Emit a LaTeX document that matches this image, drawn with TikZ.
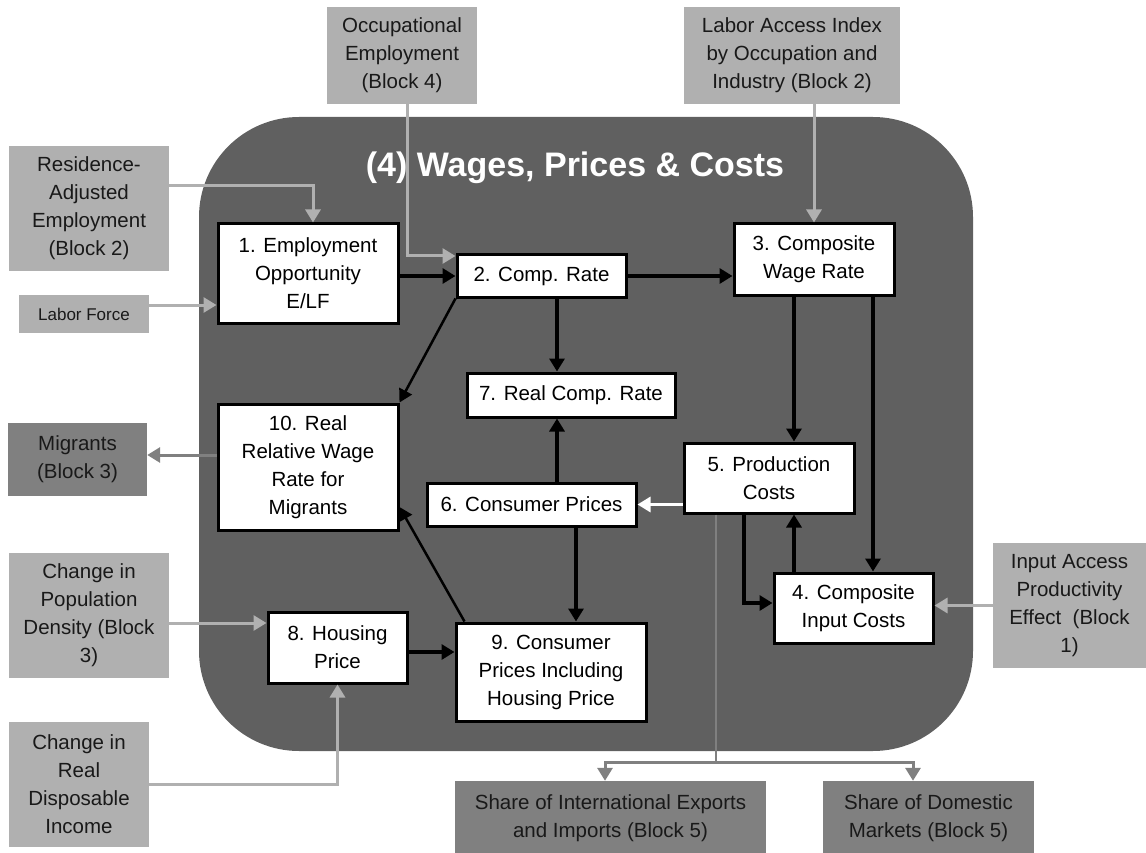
\documentclass[tikz,border=0pt]{standalone}
\usepackage{fontspec}
\setmainfont{Liberation Sans}
\usetikzlibrary{arrows.meta}
\definecolor{bgc}{HTML}{606060}
\definecolor{lg}{HTML}{B0B0B0}
\definecolor{dg}{HTML}{808080}
\newcommand{\fsz}{\fontsize{20.5}{28}\selectfont}
\begin{document}
\begin{tikzpicture}[x=1pt,y=-1pt,
  box/.style={draw=black,line width=3pt,fill=white,inner sep=0pt,align=center,font=\fsz,text=black},
  gbox/.style={fill=lg,inner sep=0pt,align=center,font=\fsz,text=black!90},
  dbox/.style={fill=dg,inner sep=0pt,align=center,font=\fsz,text=black!90},
  barrow/.style={draw=black,line width=3.5pt,-{Triangle[length=13pt,width=15pt]}},
  tarrow/.style={draw=black,line width=2.5pt,-{Triangle[length=13pt,width=14pt]}},
  garrow/.style={draw=lg,line width=3pt,-{Triangle[length=13pt,width=15pt]}},
  darrow/.style={draw=dg,line width=3pt,-{Triangle[length=13pt,width=15pt]}},
  dline/.style={draw=dg,line width=2.5pt},
  warrow/.style={draw=white,line width=3pt,-{Triangle[length=13pt,width=15pt]}}]
\useasboundingbox (0,0) rectangle (1146,853);
\fill[bgc,rounded corners=100pt] (199,117) rectangle (973,751);
% outside boxes
\node[gbox,minimum width=150pt,minimum height=97pt] (occ) at (402,55.5) {Occupational\\Employment\\(Block 4)};
\node[gbox,minimum width=160pt,minimum height=125pt] (res) at (89,208.5) {Residence-\\Adjusted\\Employment\\(Block 2)};
\node[gbox,minimum width=130pt,minimum height=38pt,font=\fontsize{17}{22}\selectfont] (lab) at (84,314) {Labor Force};
\node[gbox,minimum width=216pt,minimum height=97pt] (lai) at (792,55.5) {Labor Access Index\\by Occupation and\\Industry (Block 2)};
\node[dbox,minimum width=139pt,minimum height=73pt] (mig) at (77.5,459.5) {Migrants\\(Block 3)};
\node[gbox,minimum width=160pt,minimum height=125pt] (pop) at (89,615.5) {Change in\\Population\\Density (Block\\3)};
\node[gbox,minimum width=140pt,minimum height=125pt] (inc) at (79,784.5) {Change in\\Real\\Disposable\\Income};
\node[gbox,minimum width=153pt,minimum height=125pt] (inp) at (1069.5,605.5) {Input Access\\Productivity\\Effect~~(Block\\1)};
\node[dbox,minimum width=311pt,minimum height=74pt] (shi) at (610.5,818) {Share of International Exports\\and Imports (Block 5)};
\node[dbox,minimum width=211pt,minimum height=74pt] (shd) at (928.5,818) {Share of Domestic\\Markets (Block 5)};
% inner boxes
\node[box,minimum width=180pt,minimum height=99pt] (b1) at (308,273.5) {1. Employment\\Opportunity\\E/LF};
\node[box,minimum width=169pt,minimum height=42pt] (b2) at (541.5,276) {2. Comp. Rate};
\node[box,minimum width=160pt,minimum height=71pt] (b3) at (814,259.5) {3. Composite\\Wage Rate};
\node[box,minimum width=208pt,minimum height=44pt] (b7) at (571,395) {7. Real Comp. Rate};
\node[box,minimum width=180pt,minimum height=126pt] (b10) at (308,467) {10. Real\\Relative Wage\\Rate for\\Migrants};
\node[box,minimum width=209pt,minimum height=43pt] (b6) at (531.5,504.5) {6. Consumer Prices};
\node[box,minimum width=170pt,minimum height=70pt] (b5) at (769,478) {5. Production\\Costs};
\node[box,minimum width=159pt,minimum height=70pt] (b4) at (853.5,608) {4. Composite\\Input Costs};
\node[box,minimum width=139pt,minimum height=71pt] (b8) at (337.5,647.5) {8. Housing\\Price};
\node[box,minimum width=190pt,minimum height=98pt] (b9) at (551,672) {9. Consumer\\Prices Including\\Housing Price};
% connectors
\draw[garrow] (res.east |- 0,186) -| ([xshift=5pt]b1.north);
\draw[garrow] (lab.east |- 0,305) -- (b1.west |- 0,305);
\draw[garrow] ([xshift=5pt]occ.south) |- ([yshift=20pt]b2.west);
\draw[barrow] (b1.east |- b2.west) -- (b2.west);
\draw[barrow] (b2.east) -- (b2.east -| b3.west);
\draw[garrow] (b3.north |- lai.south) -- (b3.north);
\draw[barrow] ([xshift=15.5pt]b2.south) -- ([xshift=15.5pt]b2.south |- b7.north);
\draw[barrow] ([xshift=25.5pt]b6.north) -- ([xshift=25.5pt]b6.north |- b7.south);
\draw[tarrow] (b2.south west) -- (b10.north east);
\draw[tarrow] ([xshift=10pt]b9.north west) -- ([yshift=-40pt]b10.east);
\draw[warrow] (b5.west |- b6.east) -- (b6.east);
\draw[barrow] ([xshift=44.5pt]b6.south) -- ([xshift=44.5pt]b6.south |- b9.north);
\draw[barrow] ([xshift=-20pt]b3.south) -- ([xshift=-20pt]b3.south |- b5.north);
\draw[barrow] ([xshift=59pt]b3.south) -- ([xshift=59pt]b3.south |- b4.north);
\draw[barrow] ([xshift=-25pt]b5.south) |- ([yshift=5pt]b4.west);
\draw[barrow] ([xshift=-59.5pt]b4.north) -- ([xshift=-59.5pt]b4.north |- b5.south);
\draw[garrow] (inp.west) -- (inp.west -| b4.east);
\draw[darrow] ([yshift=12pt]b10.west) -- ([yshift=12pt]b10.west -| mig.east);
\draw[garrow] (pop.east |- 0,623) -- (b8.west |- 0,623);
\draw[barrow] (b8.east |- 0,652) -- (b9.west |- 0,652);
\draw[garrow] (inc.east) -| (b8.south);
\coordinate (split) at (716,762);
\draw[dline] ([xshift=-53pt]b5.south) -- (split);
\draw[darrow] (split) -| ([xshift=-5.5pt]shi.north);
\draw[darrow] (split) -| ([xshift=-15.5pt]shd.north);
% title (drawn last, above the connector that passes behind it)
\node[font=\bfseries\fontsize{34}{40}\selectfont,text=white,inner sep=0pt] (title) at (575,168) {(4) Wages, Prices \& Costs};
\end{tikzpicture}
\end{document}
